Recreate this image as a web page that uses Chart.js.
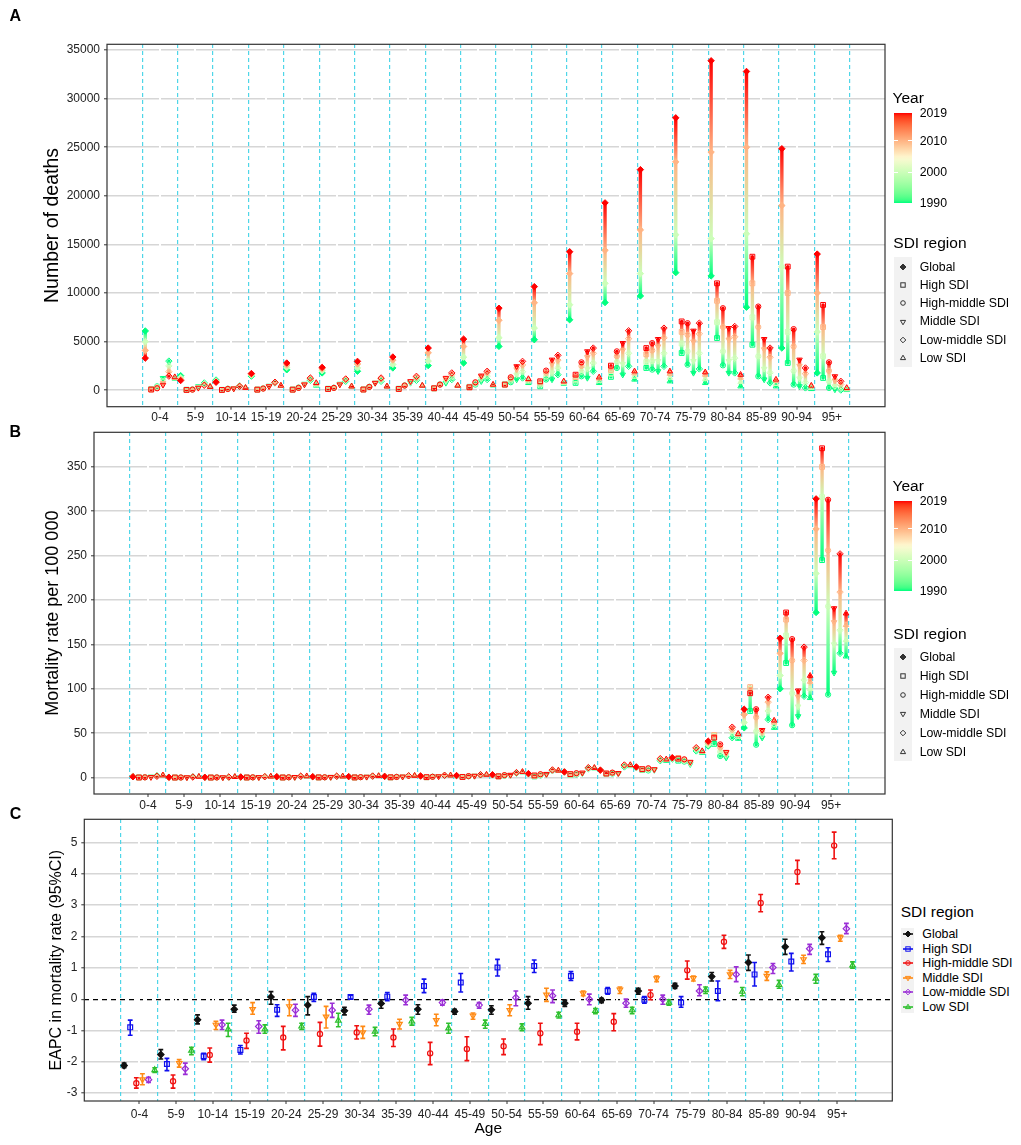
<!DOCTYPE html>
<html>
<head>
<meta charset="utf-8">
<script src="https://cdn.jsdelivr.net/npm/chart.js@4.4.1/dist/chart.umd.min.js"></script>
<style>
  body { margin: 0; background: #fff; font-family: 'Liberation Sans', Arial, sans-serif; }
  #page { position: relative; width: 1021px; height: 1145px; overflow: hidden; background: #fff; }
  canvas { position: absolute; left: 0; }
  .txt { position: absolute; white-space: nowrap; line-height: 1; color: #000; }
  .letter { position: absolute; font-weight: bold; font-size: 16px; line-height: 1; }
  .box { position: absolute; }
</style>
</head>
<body>
<div id="page">
  <canvas id="chartA" width="900" height="432" style="top:0px"></canvas>
  <canvas id="chartB" width="900" height="400" style="top:420px"></canvas>
  <canvas id="chartC" width="900" height="345" style="top:800px"></canvas>
  <div class="letter" style="left:9.5px; top:8px">A</div>
  <div class="letter" style="left:9.6px; top:424px">B</div>
  <div class="letter" style="left:9.7px; top:806px">C</div>
</div>
<script>
const ages = ["0-4", "5-9", "10-14", "15-19", "20-24", "25-29", "30-34", "35-39", "40-44", "45-49",
  "50-54", "55-59", "60-64", "65-69", "70-74", "75-79", "80-84", "85-89", "90-94", "95+"];
const regions = ["Global", "High SDI", "High-middle SDI", "Middle SDI", "Low-middle SDI", "Low SDI"];
const years = [1990, 2000, 2010, 2019];

// panel A: number of deaths, one row per age group: [1990, 2000, 2010, 2019]
const deathsGlobal = [
  [6100, 5000, 4100, 3300], [1500, 1300, 1100, 1000], [1050, 950, 880, 820], [1450, 1550, 1650, 1720],
  [2100, 2350, 2600, 2800], [1780, 2000, 2200, 2350], [1950, 2300, 2700, 2970], [2290, 2650, 3100, 3420],
  [2530, 3000, 3850, 4340], [2800, 3400, 4500, 5260], [4510, 5400, 7200, 8440], [5200, 6400, 9000, 10660],
  [7250, 8800, 12000, 14250], [9020, 11000, 14400, 19280], [9700, 12000, 16500, 22700], [12100, 16000, 23500, 28030],
  [11760, 15600, 24500, 33900], [8540, 16100, 25000, 32800], [4340, 12700, 19000, 24850], [1780, 6000, 10000, 14010]
];
const deathsHigh = [
  [120, 100, 80, 70], [50, 40, 35, 30], [40, 35, 30, 30], [70, 65, 60, 60],
  [70, 65, 60, 60], [150, 140, 135, 130], [90, 80, 75, 70], [150, 140, 135, 130],
  [200, 200, 200, 200], [350, 320, 300, 300], [600, 580, 580, 580], [400, 600, 800, 920],
  [750, 1000, 1350, 1600], [1370, 1700, 2100, 2530], [2290, 2900, 3700, 4340], [3830, 4800, 6000, 7080],
  [5370, 7000, 9200, 11000], [4680, 7500, 11000, 13740], [2800, 6000, 10000, 12720], [1260, 3500, 6500, 8780]
];
const deathsHighMiddle = [
  [400, 330, 260, 200], [90, 80, 70, 60], [160, 150, 140, 130], [200, 190, 180, 170],
  [280, 260, 250, 240], [260, 250, 245, 240], [360, 350, 345, 340], [500, 490, 485, 480],
  [600, 590, 585, 580], [580, 680, 760, 820], [820, 1000, 1200, 1330], [1100, 1400, 1800, 2020],
  [1430, 1900, 2500, 2870], [2290, 2900, 3500, 4000], [2120, 3000, 4100, 4850], [2630, 4000, 5700, 6900],
  [2560, 4000, 6500, 8440], [1430, 3500, 6500, 8610], [580, 2000, 4500, 6290], [240, 900, 2000, 2870]
];
const deathsMiddle = [
  [1250, 1000, 750, 550], [400, 330, 270, 240], [200, 190, 180, 170], [450, 430, 410, 400],
  [650, 620, 600, 580], [650, 620, 600, 580], [750, 750, 750, 750], [750, 820, 880, 920],
  [750, 950, 1150, 1260], [920, 1150, 1400, 1500], [1100, 1600, 2150, 2460], [1100, 1800, 2700, 3140],
  [1260, 2200, 3400, 4000], [1600, 2700, 4100, 4850], [1950, 3000, 4500, 5260], [1780, 3000, 5000, 6120],
  [1780, 3000, 5200, 6390], [1100, 2200, 4200, 5260], [400, 1200, 2500, 3140], [70, 400, 1000, 1430]
];
const deathsLowMiddle = [
  [3000, 2500, 1900, 1450], [750, 650, 570, 510], [450, 430, 410, 400], [750, 780, 800, 820],
  [1020, 1120, 1200, 1260], [920, 1020, 1100, 1160], [920, 1050, 1180, 1260], [1020, 1180, 1330, 1430],
  [1100, 1350, 1620, 1780], [1100, 1450, 1780, 1950], [1260, 1900, 2600, 2970], [1600, 2300, 3100, 3590],
  [1950, 2800, 3800, 4340], [2460, 3800, 5300, 6120], [2460, 3800, 5400, 6390], [2190, 3800, 5800, 6900],
  [1780, 3300, 5500, 6560], [750, 1800, 3400, 4340], [240, 800, 1700, 2290], [20, 250, 600, 920]
];
const deathsLow = [
  [1200, 1250, 1300, 1350], [400, 380, 360, 350], [250, 250, 250, 250], [450, 460, 470, 480],
  [480, 580, 680, 750], [400, 400, 400, 400], [400, 400, 400, 400], [480, 480, 480, 480],
  [480, 480, 480, 480], [500, 530, 560, 580], [750, 900, 1050, 1160], [680, 760, 850, 920],
  [750, 950, 1200, 1330], [1100, 1400, 1750, 1950], [920, 1300, 1700, 1950], [750, 1150, 1600, 1850],
  [400, 850, 1300, 1600], [400, 650, 950, 1100], [130, 250, 400, 480], [30, 100, 180, 240]
];

// panel B: mortality rate per 100 000, same layout
const rateGlobal = [
  [1.6, 1.3, 1.0, 0.9], [0.5, 0.45, 0.4, 0.35], [0.4, 0.38, 0.35, 0.33], [0.6, 0.6, 0.65, 0.65],
  [0.9, 0.9, 0.95, 1.0], [0.9, 0.9, 0.95, 1.0], [1.1, 1.1, 1.1, 1.1], [1.3, 1.3, 1.35, 1.4],
  [1.6, 1.6, 1.7, 1.8], [2.1, 2.1, 2.2, 2.3], [3.0, 3.0, 3.1, 3.2], [4.3, 4.3, 4.4, 4.5],
  [6.2, 6.2, 6.3, 6.4], [8.2, 8.2, 8.3, 8.4], [11.2, 11.5, 11.8, 12.0], [21.0, 21.5, 22.0, 22.4],
  [35.5, 37.0, 39.5, 41.0], [56.0, 62.0, 71.0, 77.0], [100, 115, 140, 157], [186, 230, 280, 314]
];
const rateHigh = [
  [0.2, 0.15, 0.12, 0.1], [0.05, 0.05, 0.05, 0.05], [0.05, 0.05, 0.05, 0.05], [0.1, 0.1, 0.1, 0.1],
  [0.1, 0.1, 0.1, 0.1], [0.2, 0.2, 0.2, 0.2], [0.15, 0.15, 0.15, 0.15], [0.3, 0.3, 0.3, 0.3],
  [0.45, 0.45, 0.45, 0.45], [0.8, 0.75, 0.7, 0.7], [1.5, 1.4, 1.4, 1.4], [1.3, 1.7, 2.1, 2.4],
  [2.8, 3.2, 3.6, 3.9], [4.0, 4.3, 4.5, 4.6], [8.5, 9.0, 9.3, 9.5], [19.0, 21.0, 22.0, 21.3],
  [38.0, 47.0, 48.0, 45.0], [75.0, 100, 102, 95.0], [129, 160, 178, 186], [245, 316, 350, 371]
];
const rateHighMiddle = [
  [0.45, 0.35, 0.28, 0.25], [0.12, 0.1, 0.1, 0.1], [0.2, 0.18, 0.16, 0.15], [0.25, 0.25, 0.25, 0.25],
  [0.35, 0.33, 0.32, 0.3], [0.35, 0.33, 0.32, 0.3], [0.5, 0.48, 0.46, 0.45], [0.75, 0.72, 0.7, 0.7],
  [1.0, 0.95, 0.9, 0.9], [1.4, 1.5, 1.6, 1.7], [2.0, 2.3, 2.6, 2.8], [2.5, 3.0, 3.5, 3.8],
  [3.5, 4.0, 4.6, 5.0], [4.5, 5.0, 5.4, 5.6], [8.0, 9.0, 10.0, 10.5], [18.0, 19.0, 20.0, 20.6],
  [24.3, 29.0, 34.0, 37.4], [37.0, 52.0, 68.0, 77.0], [59.0, 95.0, 132, 156], [93.5, 193, 256, 313]
];
const rateMiddle = [
  [1.0, 0.8, 0.6, 0.5], [0.35, 0.3, 0.25, 0.22], [0.2, 0.2, 0.2, 0.2], [0.4, 0.4, 0.4, 0.4],
  [0.55, 0.55, 0.55, 0.55], [0.6, 0.6, 0.6, 0.6], [0.8, 0.8, 0.8, 0.8], [1.0, 1.0, 1.0, 1.0],
  [1.3, 1.3, 1.3, 1.3], [1.9, 1.9, 1.9, 1.9], [2.7, 2.8, 2.9, 3.0], [3.5, 3.7, 3.9, 4.0],
  [4.8, 5.0, 5.3, 5.5], [4.5, 4.7, 4.9, 5.0], [8.5, 9.0, 9.2, 9.3], [15.0, 16.0, 17.0, 17.6],
  [22.4, 25.0, 27.5, 28.8], [44.9, 48.0, 51.0, 53.5], [69.0, 80.0, 91.0, 98.0], [118, 150, 175, 190.7]
];
const rateLowMiddle = [
  [2.3, 2.0, 1.7, 1.5], [0.9, 0.8, 0.7, 0.65], [0.6, 0.6, 0.6, 0.6], [1.0, 1.0, 1.0, 1.0],
  [1.4, 1.45, 1.5, 1.5], [1.4, 1.45, 1.5, 1.5], [1.6, 1.7, 1.7, 1.7], [2.0, 2.0, 2.0, 2.0],
  [2.4, 2.5, 2.5, 2.6], [3.0, 3.1, 3.1, 3.2], [5.0, 5.3, 5.5, 5.6], [7.8, 8.2, 8.4, 8.6],
  [10.0, 10.5, 11.0, 11.2], [12.0, 13.0, 13.8, 14.2], [19.0, 20.0, 21.0, 21.3], [30.0, 32.0, 33.0, 33.7],
  [44.9, 50.0, 54.0, 56.8], [65.4, 75.0, 85.0, 90.5], [91.6, 110, 132, 147], [140, 166, 209, 252]
];
const rateLow = [
  [2.6, 2.6, 2.6, 2.6], [1.0, 1.0, 1.0, 1.0], [0.8, 0.8, 0.8, 0.8], [1.2, 1.2, 1.3, 1.3],
  [1.3, 1.4, 1.5, 1.6], [1.4, 1.4, 1.4, 1.4], [1.8, 1.8, 1.8, 1.8], [2.1, 2.1, 2.1, 2.1],
  [2.5, 2.5, 2.5, 2.5], [3.3, 3.3, 3.3, 3.3], [6.0, 6.2, 6.4, 6.5], [7.8, 7.9, 8.0, 8.0],
  [10.5, 10.8, 11.0, 11.0], [13.0, 13.5, 14.0, 14.2], [19.0, 20.0, 20.3, 20.6], [28.0, 29.0, 29.5, 29.9],
  [43.8, 46.0, 48.0, 49.4], [56.1, 59.0, 62.0, 64.3], [89.7, 100, 108, 114.8], [136.5, 155, 172, 185]
];

// panel C: EAPC in mortality rate with 95% CI
const eapcGlobal = [-2.12, -1.77, -0.66, -0.32, 0.07, -0.19, -0.37, -0.14, -0.32, -0.39, -0.34, -0.13, -0.13, -0.03, 0.26, 0.42, 0.72, 1.17, 1.67, 1.96];
const eapcGlobalLo = [-2.19, -1.91, -0.79, -0.42, -0.16, -0.50, -0.50, -0.29, -0.48, -0.48, -0.48, -0.32, -0.23, -0.11, 0.16, 0.34, 0.58, 0.92, 1.43, 1.75];
const eapcGlobalHi = [-2.04, -1.61, -0.50, -0.19, 0.24, 0.08, -0.26, -0.02, -0.18, -0.32, -0.21, 0.08, -0.03, 0.03, 0.35, 0.51, 0.85, 1.41, 1.91, 2.15];
const eapcHigh = [-0.90, -2.07, -1.82, -1.62, -0.34, 0.07, 0.07, 0.08, 0.42, 0.53, 1.01, 1.06, 0.74, 0.26, -0.02, -0.11, 0.26, 0.79, 1.20, 1.43];
const eapcHighLo = [-1.15, -2.28, -1.93, -1.75, -0.55, -0.07, 0.0, -0.05, 0.21, 0.23, 0.74, 0.85, 0.60, 0.16, -0.13, -0.26, -0.05, 0.42, 0.90, 1.20];
const eapcHighHi = [-0.67, -1.89, -1.73, -1.48, -0.18, 0.19, 0.13, 0.21, 0.64, 0.82, 1.27, 1.25, 0.88, 0.37, 0.08, 0.08, 0.58, 1.17, 1.46, 1.64];
const eapcHighMiddle = [-2.68, -2.62, -1.78, -1.32, -1.22, -1.11, -1.06, -1.22, -1.73, -1.59, -1.50, -1.09, -1.04, -0.72, 0.13, 0.92, 1.83, 3.07, 4.06, 4.90];
const eapcHighMiddleLo = [-2.84, -2.84, -2.01, -1.57, -1.62, -1.50, -1.27, -1.51, -2.09, -1.96, -1.77, -1.45, -1.30, -1.01, -0.02, 0.64, 1.62, 2.79, 3.68, 4.48];
const eapcHighMiddleHi = [-2.51, -2.42, -1.56, -1.09, -0.87, -0.74, -0.85, -0.95, -1.38, -1.20, -1.27, -0.77, -0.77, -0.46, 0.29, 1.22, 2.04, 3.34, 4.43, 5.33];
const eapcMiddle = [-2.56, -2.04, -0.82, -0.32, -0.23, -0.56, -1.06, -0.79, -0.67, -0.53, -0.35, 0.14, 0.18, 0.30, 0.66, 0.67, 0.79, 0.74, 1.27, 1.96];
const eapcMiddleLo = [-2.73, -2.17, -0.97, -0.48, -0.53, -0.92, -1.25, -0.95, -0.85, -0.64, -0.53, -0.07, 0.11, 0.18, 0.56, 0.58, 0.66, 0.60, 1.14, 1.85];
const eapcMiddleHi = [-2.38, -1.93, -0.71, -0.11, -0.02, -0.23, -0.87, -0.64, -0.48, -0.44, -0.18, 0.35, 0.26, 0.39, 0.74, 0.74, 0.92, 0.87, 1.40, 2.04];
const eapcLowMiddle = [-2.57, -2.22, -0.82, -0.87, -0.35, -0.35, -0.32, -0.03, -0.11, -0.19, 0.05, 0.11, 0.0, -0.13, 0.0, 0.26, 0.79, 1.01, 1.61, 2.25];
const eapcLowMiddleLo = [-2.66, -2.40, -0.97, -1.09, -0.55, -0.58, -0.48, -0.18, -0.19, -0.29, -0.21, -0.11, -0.18, -0.26, -0.16, 0.11, 0.56, 0.82, 1.43, 2.09];
const eapcLowMiddleHi = [-2.49, -2.04, -0.67, -0.69, -0.16, -0.13, -0.19, 0.13, -0.03, -0.11, 0.26, 0.29, 0.16, 0.0, 0.13, 0.46, 1.03, 1.14, 1.75, 2.42];
const eapcLow = [-2.26, -1.64, -0.96, -0.96, -0.87, -0.68, -1.03, -0.71, -0.93, -0.79, -0.90, -0.51, -0.37, -0.35, -0.11, 0.29, 0.24, 0.46, 0.66, 1.08];
const eapcLowLo = [-2.34, -1.77, -1.19, -1.09, -0.97, -0.88, -1.17, -0.83, -1.09, -0.93, -1.01, -0.60, -0.46, -0.46, -0.19, 0.18, 0.11, 0.35, 0.51, 0.99];
const eapcLowHi = [-2.19, -1.54, -0.77, -0.82, -0.77, -0.45, -0.90, -0.58, -0.77, -0.67, -0.79, -0.42, -0.30, -0.26, -0.02, 0.39, 0.37, 0.60, 0.79, 1.19];

const yTicksA = [0, 5000, 10000, 15000, 20000, 25000, 30000, 35000];
const yTicksB = [0, 50, 100, 150, 200, 250, 300, 350];
const yTicksC = [-3, -2, -1, 0, 1, 2, 3, 4, 5];

const FONT = "'Liberation Sans', Arial, sans-serif";
Chart.defaults.font.family = FONT;

const regionColors = ["#111111", "#1010EE", "#F01010", "#FF8A14", "#9A2ED6", "#2EC02E"];
const shapes = [
  { style: "rectRot", rot: 0, size: 3.2, fill: true },
  { style: "rect", rot: 0, size: 3.4 },
  { style: "circle", rot: 0, size: 2.6 },
  { style: "triangle", rot: 180, size: 3.2 },
  { style: "rectRot", rot: 0, size: 3.2 },
  { style: "triangle", rot: 0, size: 3.2 }
];
const dividers = [];
for (let i = 0; i <= ages.length; i++) dividers.push(i - 0.5);

// position of a region inside its age group
function xPos(g, r) {
  return g + (r - 2.5) / 6;
}

// year colour scale: springgreen -> pale yellow -> red, mixed in Lab like ggplot
function toLin(c) { c /= 255; return c <= 0.04045 ? c / 12.92 : Math.pow((c + 0.055) / 1.055, 2.4); }
function fromLin(c) { const v = c <= 0.0031308 ? 12.92 * c : 1.055 * Math.pow(c, 1 / 2.4) - 0.055; return Math.round(Math.min(1, Math.max(0, v)) * 255); }
function fLab(t) { return t > 0.008856 ? Math.cbrt(t) : 7.787 * t + 16 / 116; }
function fInv(f) { const f3 = f * f * f; return f3 > 0.008856 ? f3 : (f - 16 / 116) / 7.787; }
function toLab(rgb) {
  const [r, g, b] = rgb.map(toLin);
  const X = (0.4124 * r + 0.3576 * g + 0.1805 * b) / 0.95047;
  const Y = 0.2126 * r + 0.7152 * g + 0.0722 * b;
  const Z = (0.0193 * r + 0.1192 * g + 0.9505 * b) / 1.08883;
  const fx = fLab(X), fy = fLab(Y), fz = fLab(Z);
  return [116 * fy - 16, 500 * (fx - fy), 200 * (fy - fz)];
}
function fromLab([L, a, bb]) {
  const fy = (L + 16) / 116, fx = fy + a / 500, fz = fy - bb / 200;
  const X = fInv(fx) * 0.95047, Y = fInv(fy), Z = fInv(fz) * 1.08883;
  const r = 3.2406 * X - 1.5372 * Y - 0.4986 * Z;
  const g = -0.9689 * X + 1.8758 * Y + 0.0415 * Z;
  const b = 0.0557 * X - 0.2040 * Y + 1.0570 * Z;
  return `rgb(${fromLin(r)},${fromLin(g)},${fromLin(b)})`;
}
const labLow = toLab([0, 255, 127]);
const labMid = toLab([252, 250, 210]);
const labHigh = toLab([255, 0, 0]);
const colorCache = {};
function yearColor(yr) {
  if (yr == null) return "rgba(0,0,0,0)";
  if (colorCache[yr]) return colorCache[yr];
  const t = (yr - 1990) / 29;
  let a, b, u;
  if (t < 0.5) { a = labLow; b = labMid; u = t / 0.5; } else { a = labMid; b = labHigh; u = (t - 0.5) / 0.5; }
  const c = fromLab([0, 1, 2].map((i) => a[i] + (b[i] - a[i]) * u));
  colorCache[yr] = c;
  return c;
}

function streakDataset(rows, r) {
  const data = [];
  rows.forEach((vals, g) => {
    vals.forEach((v, k) => data.push({ x: xPos(g, r), y: v, year: years[k] }));
    data.push({ x: xPos(g, r), y: null });
  });
  const sh = shapes[r];
  const colorOf = (c) => yearColor(c.raw && c.raw.year);
  return {
    label: regions[r],
    data,
    showLine: true,
    spanGaps: false,
    borderWidth: 3.4,
    borderCapStyle: "round",
    segment: {
      borderColor: (ctx) => {
        const grad = ctx.chart.ctx.createLinearGradient(ctx.p0.x, ctx.p0.y, ctx.p1.x, ctx.p1.y + 0.01);
        grad.addColorStop(0, yearColor(data[ctx.p0DataIndex].year));
        grad.addColorStop(1, yearColor(data[ctx.p1DataIndex].year));
        return grad;
      }
    },
    pointStyle: sh.style,
    pointRotation: sh.rot,
    pointRadius: sh.size,
    pointBorderWidth: 1,
    pointBorderColor: colorOf,
    pointBackgroundColor: sh.fill ? colorOf : "rgba(0,0,0,0)"
  };
}

function errorDataset(lo, hi, r) {
  const data = [];
  lo.forEach((v, g) => {
    data.push({ x: xPos(g, r), y: v }, { x: xPos(g, r), y: hi[g] }, { x: xPos(g, r), y: null });
  });
  return {
    label: regions[r] + " CI",
    data,
    showLine: true,
    spanGaps: false,
    borderColor: regionColors[r],
    borderWidth: 1.6,
    pointStyle: "line",
    pointRadius: 2.4,
    pointBorderWidth: 1.6,
    pointBorderColor: regionColors[r]
  };
}

function markerDataset(est, r) {
  const sh = shapes[r];
  return {
    label: regions[r],
    data: est.map((v, g) => ({ x: xPos(g, r), y: v })),
    showLine: false,
    pointStyle: sh.style,
    pointRotation: sh.rot,
    pointRadius: sh.size,
    pointBorderWidth: 1.2,
    pointBorderColor: regionColors[r],
    pointBackgroundColor: sh.fill ? regionColors[r] : "rgba(255,255,255,0)"
  };
}

const framePlugin = {
  id: "frame",
  afterDraw(chart) {
    const { ctx, chartArea: a } = chart;
    ctx.save();
    ctx.strokeStyle = "#333";
    ctx.lineWidth = 1.2;
    ctx.strokeRect(a.left, a.top, a.right - a.left, a.bottom - a.top);
    ctx.restore();
  }
};

function scalesFor(cfg) {
  const isZero = (c) => cfg.zeroLine && c.tick && c.tick.value === 0;
  return {
    x: {
      type: "linear", position: "bottom", bounds: "data", min: -1.5, max: 20.5,
      afterBuildTicks: (s) => { s.ticks = ages.map((_, i) => ({ value: i })); },
      afterFit: (s) => { s.height = cfg.xHeight; },
      grid: { color: "#FFFFFF", lineWidth: 2, z: -1, tickColor: "#333", tickLength: 3, tickWidth: 1 },
      border: { display: false },
      ticks: {
        autoSkip: false, maxRotation: 0, minRotation: 0, color: "#222",
        font: { size: 12 }, padding: cfg.xPad,
        callback: (v) => ages[v] ?? ""
      },
      title: cfg.xTitle ? { display: true, text: cfg.xTitle, color: "#000", font: { size: 15.5 }, padding: { top: 0, bottom: 6.7 } } : { display: false }
    },
    x2: {
      type: "linear", position: "top", bounds: "data", min: -1.5, max: 20.5,
      afterBuildTicks: (s) => { s.ticks = dividers.map((v) => ({ value: v })); },
      afterFit: (s) => { s.height = 0; },
      grid: { color: "#4FD6E8", lineWidth: 1.2, z: -1, drawTicks: false },
      border: { display: false, dash: [4, 3] },
      ticks: { display: false }
    },
    y: {
      type: "linear", bounds: "data", min: cfg.yMin, max: cfg.yMax,
      afterBuildTicks: (s) => { s.ticks = cfg.yTicks.map((v) => ({ value: v })); },
      afterFit: (s) => { s.width = cfg.yWidth; },
      grid: {
        color: (c) => (isZero(c) ? "#000000" : "#D6D6D6"),
        lineWidth: (c) => (isZero(c) ? 1.3 : 1.6),
        z: -2, tickColor: "#333", tickLength: 3, tickWidth: 1
      },
      border: { display: false, dash: (c) => (isZero(c) ? [5, 4] : []) },
      ticks: { color: "#222", font: { size: 12 }, padding: 4, callback: (v) => String(v) },
      title: {
        display: true, text: cfg.yTitle, color: "#000",
        font: { size: cfg.yTitleSize },
        padding: { top: cfg.yTitleX - cfg.yTitleSize * 0.6, bottom: 0 }
      }
    }
  };
}

function makeChart(id, datasets, cfg) {
  return new Chart(document.getElementById(id), {
    type: "scatter",
    data: { datasets },
    options: {
      responsive: false,
      animation: false,
      events: [],
      layout: { padding: { left: 0, right: cfg.padRight, top: cfg.padTop, bottom: 0 } },
      plugins: { legend: { display: false }, tooltip: { enabled: false } },
      scales: scalesFor(cfg)
    },
    plugins: [framePlugin]
  });
}

const deathsByRegion = [deathsGlobal, deathsHigh, deathsHighMiddle, deathsMiddle, deathsLowMiddle, deathsLow];
const rateByRegion = [rateGlobal, rateHigh, rateHighMiddle, rateMiddle, rateLowMiddle, rateLow];
const eapcByRegion = [eapcGlobal, eapcHigh, eapcHighMiddle, eapcMiddle, eapcLowMiddle, eapcLow];
const eapcLoByRegion = [eapcGlobalLo, eapcHighLo, eapcHighMiddleLo, eapcMiddleLo, eapcLowMiddleLo, eapcLowLo];
const eapcHiByRegion = [eapcGlobalHi, eapcHighHi, eapcHighMiddleHi, eapcMiddleHi, eapcLowMiddleHi, eapcLowHi];

makeChart("chartA", deathsByRegion.map(streakDataset), {
  yMin: -1695, yMax: 35595, yTicks: yTicksA, yWidth: 107, xHeight: 25.3, xPad: 1,
  padTop: 44.3, padRight: 15, yTitle: "Number of deaths", yTitleSize: 19.5, yTitleX: 52.5
});
makeChart("chartB", rateByRegion.map(streakDataset), {
  yMin: -18.5, yMax: 389, yTicks: yTicksB, yWidth: 94, xHeight: 26, xPad: 1,
  padTop: 12.3, padRight: 15, yTitle: "Mortality rate per 100 000", yTitleSize: 18, yTitleX: 53.5
});
makeChart("chartC",
  eapcByRegion.map((_, r) => errorDataset(eapcLoByRegion[r], eapcHiByRegion[r], r))
    .concat(eapcByRegion.map(markerDataset)), {
  yMin: -3.25, yMax: 5.74, yTicks: yTicksC, yWidth: 84.3, xHeight: 44, xPad: 3,
  padTop: 19.3, padRight: 7.7, yTitle: "EAPC in mortality rate (95%CI)", yTitleSize: 16, yTitleX: 57,
  xTitle: "Age", zeroLine: true
});

// ---- legends (html) ----
const page = document.getElementById("page");
function addText(text, left, cy, size) {
  const d = document.createElement("div");
  d.className = "txt";
  d.textContent = text;
  d.style.left = left + "px";
  d.style.top = (cy - size / 2) + "px";
  d.style.fontSize = size + "px";
  page.appendChild(d);
}
function addBox(left, top, w, h, bg) {
  const d = document.createElement("div");
  d.className = "box";
  Object.assign(d.style, { left: left + "px", top: top + "px", width: w + "px", height: h + "px", background: bg });
  page.appendChild(d);
  return d;
}
function symbolSvg(r, color, withLine) {
  const w = withLine ? 10 : 8, h = 8, cx = w / 2, cy = 4;
  let s = withLine ? `<line x1="0" y1="${cy}" x2="${w}" y2="${cy}" stroke="${color}" stroke-width="1.6"/>` : "";
  const st = `stroke="${color}" stroke-width="1"`;
  if (r === 0) s += `<polygon points="${cx},${cy - 3} ${cx + 3},${cy} ${cx},${cy + 3} ${cx - 3},${cy}" fill="${color}" ${st}/>`;
  if (r === 1) s += `<rect x="${cx - 2.2}" y="${cy - 2.2}" width="4.4" height="4.4" fill="none" ${st}/>`;
  if (r === 2) s += `<circle cx="${cx}" cy="${cy}" r="2.3" fill="none" ${st}/>`;
  if (r === 3) s += `<polygon points="${cx - 2.6},${cy - 1.6} ${cx + 2.6},${cy - 1.6} ${cx},${cy + 2.8}" fill="none" ${st}/>`;
  if (r === 4) s += `<polygon points="${cx},${cy - 2.8} ${cx + 2.8},${cy} ${cx},${cy + 2.8} ${cx - 2.8},${cy}" fill="none" ${st}/>`;
  if (r === 5) s += `<polygon points="${cx - 2.6},${cy + 1.6} ${cx + 2.6},${cy + 1.6} ${cx},${cy - 2.8}" fill="none" ${st}/>`;
  return { html: `<svg width="${w}" height="${h}" viewBox="0 0 ${w} ${h}" style="display:block">${s}</svg>`, w, h };
}
function addSymbol(r, color, withLine, cx, cy) {
  const sym = symbolSvg(r, color, withLine);
  const d = document.createElement("div");
  d.className = "box";
  d.style.left = (cx - sym.w / 2) + "px";
  d.style.top = (cy - sym.h / 2) + "px";
  d.innerHTML = sym.html;
  page.appendChild(d);
}

function yearLegend(yearTop, sdiTop, step) {
  addText("Year", 892.5, yearTop, 15.5);
  const barTop = yearTop + 15, barH = 90.6;
  const stops = [];
  for (let yr = 1990; yr <= 2019; yr++) stops.push(`${yearColor(yr)} ${((yr - 1990) / 29 * 100).toFixed(1)}%`);
  addBox(894.3, barTop, 17.4, barH, `linear-gradient(to top, ${stops.join(",")})`);
  [2019, 2010, 2000, 1990].forEach((yr) => {
    const y = barTop + (2019 - yr) / 29 * barH;
    addText(String(yr), 919.7, y, 12.3);
    if (yr === 2010 || yr === 2000) {
      addBox(894.3, y - 0.5, 3.5, 1, "#fff");
      addBox(908.2, y - 0.5, 3.5, 1, "#fff");
    }
  });
  addText("SDI region", 893.3, sdiTop, 15.5);
  addBox(894, sdiTop + 14.3, 17.7, step * 5 + 18.5, "#F2F2F2");
  regions.forEach((name, r) => {
    const cy = sdiTop + 24 + step * r;
    addSymbol(r, "#333", false, 902.8, cy);
    addText(name, 919.7, cy, 12.3);
  });
}
yearLegend(97.7, 242.7, 18.3);
yearLegend(485.7, 633.3, 18.9);

addText("SDI region", 900.7, 912, 15.5);
addBox(900.7, 928.3, 13.6, 85, "#F2F2F2");
regions.forEach((name, r) => {
  const cy = 934.3 + 14.5 * r;
  addSymbol(r, regionColors[r], true, 907.5, cy);
  addText(name, 922.3, cy, 12.4);
});
</script>
</body>
</html>
